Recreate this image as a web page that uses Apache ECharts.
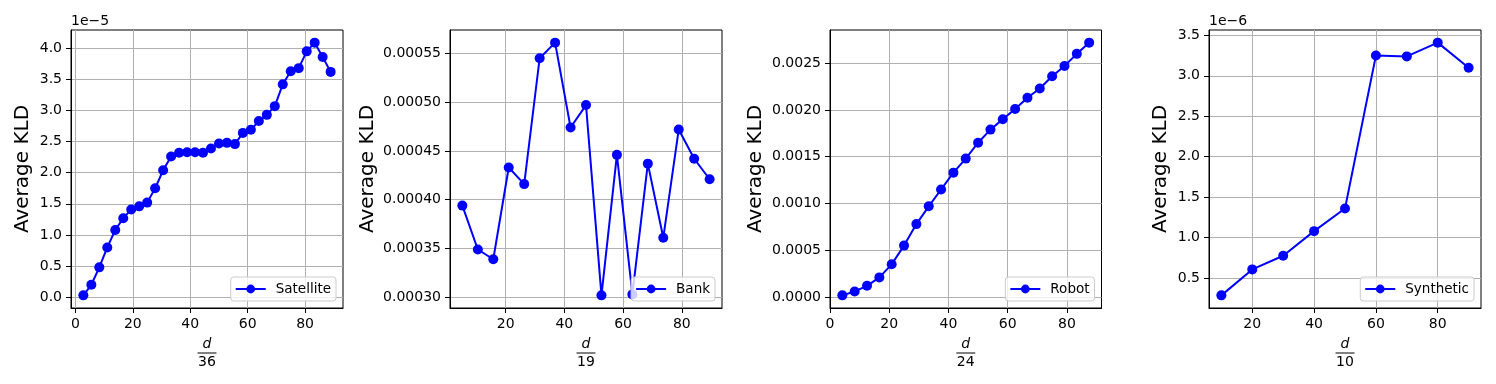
<!DOCTYPE html>
<html>
<head>
<meta charset="utf-8">
<script src="https://cdn.jsdelivr.net/npm/echarts@6/dist/echarts.min.js"></script>
<style>
  html, body { margin: 0; padding: 0; background: #fff; }
  #chart { width: 1496px; height: 384px; }
</style>
</head>
<body>
<div id="chart"></div>
<script>
// Satellite (values in units of 1e-5)
const satX = [2.78, 5.56, 8.33, 11.11, 13.89, 16.67, 19.44, 22.22, 25.00, 27.78, 30.56, 33.33, 36.11, 38.89, 41.67, 44.44,
              47.22, 50.00, 52.78, 55.56, 58.33, 61.11, 63.89, 66.67, 69.44, 72.22, 75.00, 77.78, 80.56, 83.33, 86.11, 88.89];
const satY = [0.03, 0.20, 0.48, 0.80, 1.08, 1.27, 1.41, 1.46, 1.52, 1.75, 2.04, 2.26, 2.32, 2.33, 2.33, 2.32,
              2.39, 2.47, 2.48, 2.46, 2.64, 2.69, 2.83, 2.93, 3.07, 3.42, 3.63, 3.68, 3.95, 4.09, 3.86, 3.62];

// Bank
const bankX = [5.26, 10.53, 15.79, 21.05, 26.32, 31.58, 36.84, 42.11, 47.37, 52.63, 57.89, 63.16, 68.42, 73.68, 78.95, 84.21, 89.47];
const bankY = [0.000394, 0.000349, 0.000339, 0.000433, 0.000416, 0.000545, 0.000561, 0.000474, 0.000497,
               0.000302, 0.000446, 0.000303, 0.000437, 0.000361, 0.000472, 0.000442, 0.000421];

// Robot
const robotX = [4.17, 8.33, 12.50, 16.67, 20.83, 25.00, 29.17, 33.33, 37.50, 41.67, 45.83, 50.00, 54.17, 58.33,
                62.50, 66.67, 70.83, 75.00, 79.17, 83.33, 87.50];
const robotY = [0.000018, 0.00006, 0.00012, 0.00021, 0.00035, 0.00055, 0.00078, 0.00097, 0.00115, 0.00133, 0.00148,
                0.00165, 0.00179, 0.00190, 0.00201, 0.00213, 0.00223, 0.00236, 0.00247, 0.00260, 0.00272];

// Synthetic (values in units of 1e-6)
const synX = [10, 20, 30, 40, 50, 60, 70, 80, 90];
const synY = [0.286, 0.607, 0.776, 1.08, 1.36, 3.25, 3.24, 3.41, 3.10];

// tick labels
const satXTicks = [0, 20, 40, 60, 80];
const satYTicks = [0, 0.5, 1.0, 1.5, 2.0, 2.5, 3.0, 3.5, 4.0];
const bankXTicks = [20, 40, 60, 80];
const bankYTicks = [0.00030, 0.00035, 0.00040, 0.00045, 0.00050, 0.00055];
const robotXTicks = [0, 20, 40, 60, 80];
const robotYTicks = [0, 0.0005, 0.0010, 0.0015, 0.0020, 0.0025];
const synXTicks = [20, 40, 60, 80];
const synYTicks = [0.5, 1.0, 1.5, 2.0, 2.5, 3.0, 3.5];

const names = ['Satellite', 'Bank', 'Robot', 'Synthetic'];
const denoms = ['36', '19', '24', '10'];

const FONT = 'DejaVu Sans';

// matplotlib style 5% margins
function padRange(arr) {
    const lo = Math.min(...arr), hi = Math.max(...arr);
    const m = (hi - lo) * 0.05;
    return [lo - m, hi + m];
}

const panels = [
    { x: satX, y: satY, xt: satXTicks, yt: satYTicks, dec: 1, left: 71, width: 272, yGap: 38 },
    { x: bankX, y: bankY, xt: bankXTicks, yt: bankYTicks, dec: 5, left: 450, width: 272, yGap: 72 },
    { x: robotX, y: robotY, xt: robotXTicks, yt: robotYTicks, dec: 4, left: 830, width: 271.5, yGap: 64, xMin: 0 },
    { x: synX, y: synY, xt: synXTicks, yt: synYTicks, dec: 1, left: 1209, width: 272, yGap: 38 }
];

const grid = [], xAxis = [], yAxis = [], series = [], legend = [];

panels.forEach((p, i) => {
    const xr = padRange(p.x), yr = padRange(p.y);
    if (p.xMin !== undefined) xr[0] = p.xMin;
    grid.push({ left: p.left, top: 30, width: p.width, height: 278, show: true, borderColor: '#000', borderWidth: 1, backgroundColor: 'transparent' });
    xAxis.push({
        type: 'value', gridIndex: i, min: xr[0], max: xr[1],
        axisLine: { show: true, onZero: false, lineStyle: { color: '#000', width: 1 } },
        axisTick: { show: true, length: 5, customValues: p.xt, lineStyle: { color: '#000' } },
        axisLabel: { customValues: p.xt, color: '#000', fontSize: 14, fontFamily: FONT, margin: 9 },
        splitLine: { show: true, lineStyle: { color: '#b0b0b0', width: 1 } },
        name: '{d|d}\n{bar| }\n{n|' + denoms[i] + '}',
        nameLocation: 'middle', nameGap: 29,
        nameTextStyle: {
            color: '#000', fontFamily: FONT, align: 'center',
            rich: {
                d: { fontSize: 14, fontStyle: 'italic', fontFamily: FONT, lineHeight: 14, color: '#000' },
                bar: { width: 19, height: 1, lineHeight: 4, backgroundColor: '#000', fontSize: 1 },
                n: { fontSize: 14, fontFamily: FONT, lineHeight: 15, color: '#000' }
            }
        }
    });
    yAxis.push({
        type: 'value', gridIndex: i, min: yr[0], max: yr[1],
        axisLine: { show: true, onZero: false, lineStyle: { color: '#000', width: 1 } },
        axisTick: { show: true, length: 5, customValues: p.yt, lineStyle: { color: '#000' } },
        axisLabel: {
            customValues: p.yt, color: '#000', fontSize: 14, fontFamily: FONT, margin: 9,
            formatter: v => v.toFixed(p.dec)
        },
        splitLine: { show: true, lineStyle: { color: '#b0b0b0', width: 1 } },
        name: 'Average KLD', nameLocation: 'middle', nameRotate: 90, nameGap: p.yGap,
        nameTextStyle: { color: '#000', fontSize: 20, fontFamily: FONT }
    });
    series.push({
        name: names[i], type: 'line', xAxisIndex: i, yAxisIndex: i,
        data: p.x.map((v, k) => [v, p.y[k]]),
        symbol: 'circle', symbolSize: 10,
        lineStyle: { color: '#0000ff', width: 2 },
        itemStyle: { color: '#0000ff' },
        emphasis: { disabled: true },
        z: 3
    });
    legend.push({
        data: [names[i]],
        right: 1496 - (p.left + p.width - 7), bottom: 83,
        orient: 'horizontal',
        itemWidth: 30, itemHeight: 11,
        padding: [5, 5, 5, 4],
        backgroundColor: 'rgba(255,255,255,0.8)',
        borderColor: '#cccccc', borderWidth: 1, borderRadius: 3,
        textStyle: { color: '#000', fontSize: 13.5, fontFamily: FONT, padding: [0, 0, 0, 5] },
        selectedMode: false
    });
});

const chart = echarts.init(document.getElementById('chart'), null, { renderer: 'canvas' });
chart.setOption({
    animation: false,
    backgroundColor: '#fff',
    grid: grid,
    xAxis: xAxis,
    yAxis: yAxis,
    series: series,
    legend: legend,
    graphic: [
        { type: 'text', left: 71, top: 14, style: { text: '1e\u22125', fontSize: 14, fontFamily: FONT, fill: '#000' } },
        { type: 'text', left: 1209, top: 14, style: { text: '1e\u22126', fontSize: 14, fontFamily: FONT, fill: '#000' } }
    ]
});
</script>
</body>
</html>
